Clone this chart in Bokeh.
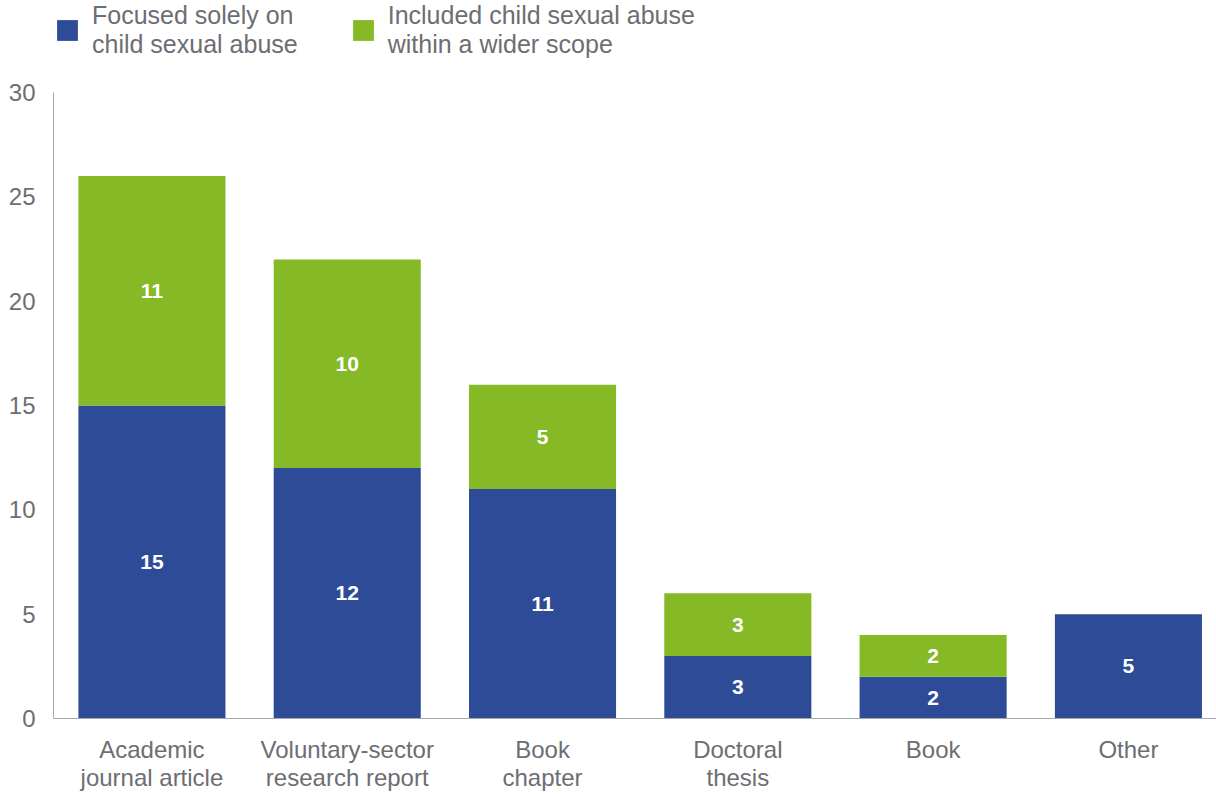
from bokeh.plotting import figure
from bokeh.models import ColumnDataSource, Range1d, Legend, LegendItem, FixedTicker, Span
from bokeh.core.properties import value
from bokeh.embed import file_html
from bokeh.resources import INLINE

categories = ["Academic\njournal article", "Voluntary-sector\nresearch report", "Book\nchapter",
              "Doctoral\nthesis", "Book", "Other"]
solely = [15, 12, 11, 3, 2, 5]
wider = [11, 10, 5, 3, 2, 0]
series_names = ["Focused solely on\nchild sexual abuse", "Included child sexual abuse\nwithin a wider scope"]
y_ticks = [0, 5, 10, 15, 20, 25, 30]

BLUE = "#2E4B98"
GREEN = "#85B926"
GREY = "#6d6e71"
AXIS = "#a7a9ac"
FONT = "Liberation Sans"

xs = list(range(len(categories)))
src = ColumnDataSource(dict(x=xs, solely=solely, wider=wider))

p = figure(width=1216, height=794, output_backend="svg", toolbar_location=None,
           x_range=Range1d(-0.504, 5.451), y_range=Range1d(-3.642, 34.41),
           min_border_left=53, min_border_right=0, min_border_top=0, min_border_bottom=0)
p.outline_line_color = None
p.grid.visible = False
p.xaxis.visible = False

rs = p.vbar_stack(["solely", "wider"], x="x", width=0.753, color=[BLUE, GREEN], source=src, line_width=0)

# baseline (x axis line)
p.add_layout(Span(location=0, dimension="width", line_color=AXIS, line_width=1))

# category labels under the baseline
p.text(x=xs, y=[0] * len(xs), text=categories, text_align="center", text_baseline="top",
       y_offset=17, text_color=GREY, text_font=value(FONT), text_font_size="24px",
       text_line_height=1.05)

# value labels
lx, ly, lt = [], [], []
for i in xs:
    if solely[i] > 0:
        lx.append(i); ly.append(solely[i] / 2); lt.append(str(solely[i]))
    if wider[i] > 0:
        lx.append(i); ly.append(solely[i] + wider[i] / 2); lt.append(str(wider[i]))
p.text(x=lx, y=ly, text=lt, text_align="center", text_baseline="middle",
       text_color="white", text_font=value(FONT), text_font_style="bold", text_font_size="21px")

# y axis
p.yaxis.ticker = FixedTicker(ticks=y_ticks)
p.yaxis.bounds = (0, 30)
p.yaxis.major_tick_out = 0
p.yaxis.major_tick_in = 0
p.yaxis.minor_tick_line_color = None
p.yaxis.axis_line_color = AXIS
p.yaxis.major_label_text_font = FONT
p.yaxis.major_label_text_font_size = "24px"
p.yaxis.major_label_text_color = GREY
p.yaxis.major_label_standoff = 18

legend = Legend(items=[LegendItem(label=series_names[0], renderers=[rs[0]]),
                       LegendItem(label=series_names[1], renderers=[rs[1]])],
                orientation="horizontal", location="top_left")
legend.label_text_font = FONT
legend.label_text_font_size = "25px"
legend.label_text_color = GREY
legend.label_text_line_height = 1.08
legend.glyph_width = 26
legend.glyph_height = 26
legend.label_standoff = 12
legend.spacing = 52
legend.padding = 0
legend.margin = 1
legend.border_line_alpha = 0
legend.background_fill_alpha = 0
p.add_layout(legend)

open("out.html", "w").write(file_html(p, INLINE))
